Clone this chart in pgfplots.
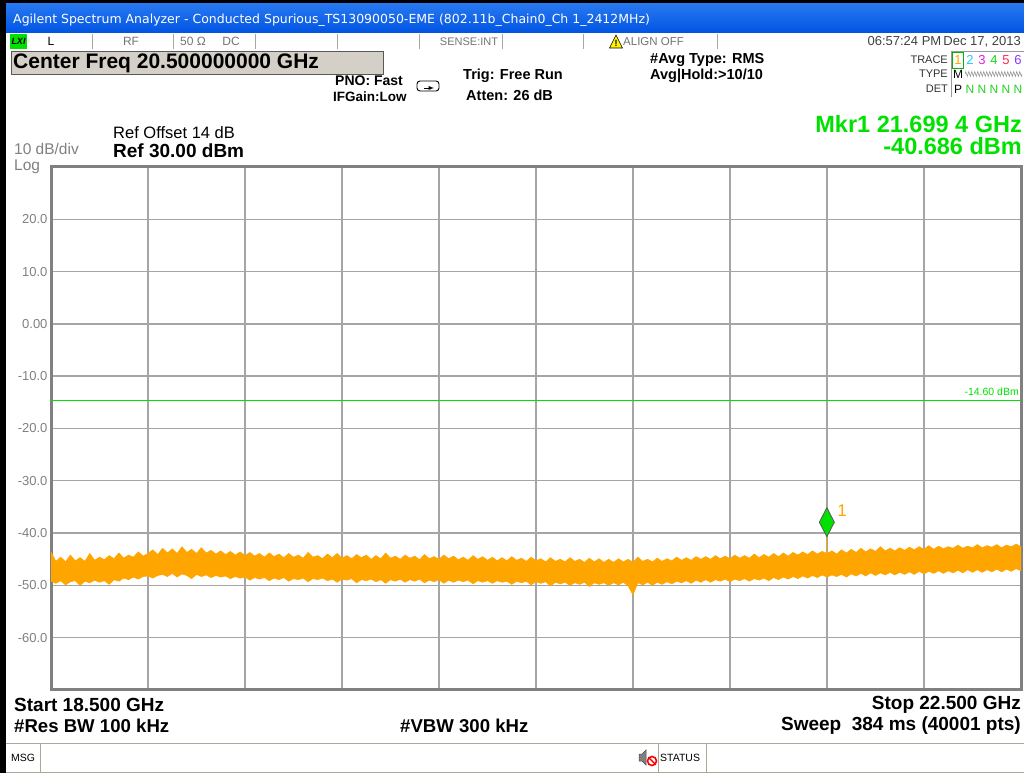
\documentclass[border=0pt]{standalone}
\usepackage{fontspec}
\setmainfont{Liberation Sans}
\newfontfamily\tahoma{DejaVu Sans}
\usepackage{pgfplots}
\pgfplotsset{compat=1.18}
\usepgfplotslibrary{fillbetween}
\usepackage{pgfplotstable}
\usetikzlibrary{decorations.pathmorphing}

\definecolor{trc}{RGB}{255,165,0}
\definecolor{mkgreen}{RGB}{0,225,0}
\definecolor{framegray}{RGB}{128,128,128}
\definecolor{gridgray}{RGB}{165,165,165}
\definecolor{lblgray}{RGB}{128,128,128}
\definecolor{cellline}{RGB}{172,168,153}
\definecolor{boxgray}{RGB}{212,208,200}
\definecolor{xpblue}{RGB}{0,84,227}
\definecolor{xpblue2}{RGB}{40,120,240}
\definecolor{tc2}{RGB}{40,200,255}
\definecolor{tc3}{RGB}{225,30,225}
\definecolor{tc4}{RGB}{30,210,30}
\definecolor{tc5}{RGB}{255,40,80}
\definecolor{tc6}{RGB}{130,60,255}

\newcommand\fs[1]{\fontsize{#1}{#1}\selectfont}

\pgfplotstableread{
f lo hi
18.50 -49.2 -43.6
18.52 -49.6 -45.4
18.54 -49.1 -44.6
18.56 -49.9 -45.5
18.58 -49.3 -44.2
18.60 -49.1 -45.3
18.62 -50.0 -44.7
18.64 -49.2 -45.4
18.66 -49.5 -43.9
18.68 -49.0 -45.2
18.70 -49.4 -44.6
18.72 -49.1 -45.1
18.74 -49.8 -44.3
18.76 -48.9 -44.9
18.78 -49.2 -43.8
18.80 -48.6 -44.8
18.82 -48.9 -44.2
18.84 -48.4 -44.6
18.86 -48.8 -43.6
18.88 -48.3 -44.4
18.90 -48.2 -43.9
18.92 -48.6 -43.2
18.94 -48.1 -44.1
18.96 -47.9 -42.9
18.98 -48.3 -43.8
19.00 -47.7 -43.0
19.02 -48.4 -43.9
19.04 -47.8 -42.6
19.06 -48.1 -43.7
19.08 -48.7 -43.1
19.10 -47.9 -43.9
19.12 -48.3 -42.8
19.14 -48.0 -43.8
19.16 -48.5 -43.3
19.18 -48.1 -44.0
19.20 -48.4 -43.4
19.22 -48.2 -44.1
19.24 -48.7 -43.5
19.26 -48.3 -44.2
19.28 -48.6 -43.6
19.30 -48.4 -44.3
19.32 -49.0 -43.7
19.34 -48.5 -44.4
19.36 -48.8 -43.9
19.38 -48.5 -44.6
19.40 -49.1 -43.8
19.42 -48.6 -44.5
19.44 -48.9 -44.0
19.46 -48.5 -44.7
19.48 -49.2 -43.9
19.50 -48.7 -44.6
19.52 -48.9 -44.2
19.54 -48.6 -44.8
19.56 -49.3 -43.7
19.58 -48.7 -44.6
19.60 -48.9 -44.3
19.62 -48.6 -44.9
19.64 -49.1 -44.0
19.66 -48.8 -44.7
19.68 -49.4 -43.9
19.70 -48.8 -44.8
19.72 -49.0 -44.3
19.74 -48.7 -44.9
19.76 -49.5 -44.1
19.78 -48.9 -44.7
19.80 -49.1 -44.2
19.82 -48.8 -45.0
19.84 -49.3 -44.3
19.86 -48.9 -44.9
19.88 -49.6 -43.8
19.90 -48.9 -44.8
19.92 -49.2 -44.4
19.94 -48.8 -45.0
19.96 -49.4 -44.2
19.98 -48.9 -44.8
20.00 -49.2 -44.4
20.02 -48.8 -45.1
20.04 -49.5 -44.1
20.06 -49.0 -44.9
20.08 -49.3 -44.5
20.10 -48.9 -45.0
20.12 -49.6 -44.2
20.14 -49.0 -44.9
20.16 -49.4 -44.4
20.18 -49.0 -45.1
20.20 -49.3 -44.6
20.22 -49.0 -45.2
20.24 -49.7 -44.3
20.26 -49.1 -45.0
20.28 -49.4 -44.5
20.30 -49.1 -45.2
20.32 -49.6 -44.6
20.34 -49.1 -45.3
20.36 -49.4 -44.7
20.38 -49.2 -45.3
20.40 -49.8 -44.5
20.42 -49.2 -45.2
20.44 -49.5 -44.8
20.46 -49.2 -45.4
20.48 -49.9 -44.6
20.50 -49.3 -45.3
20.52 -49.6 -44.9
20.54 -49.3 -45.5
20.56 -50.1 -44.7
20.58 -49.4 -45.4
20.60 -49.7 -45.0
20.62 -49.4 -45.5
20.64 -50.0 -44.7
20.66 -49.5 -45.4
20.68 -49.8 -45.0
20.70 -49.4 -45.6
20.72 -50.2 -44.8
20.74 -49.5 -45.5
20.76 -49.8 -44.9
20.78 -49.5 -45.6
20.80 -50.0 -45.0
20.82 -49.5 -45.6
20.84 -49.9 -44.9
20.86 -49.4 -45.5
20.88 -50.1 -45.0
20.90 -51.8 -45.6
20.92 -49.5 -44.6
20.94 -49.9 -45.4
20.96 -49.4 -45.0
20.98 -50.0 -45.5
21.00 -49.4 -44.8
21.02 -49.8 -45.4
21.04 -49.3 -44.9
21.06 -49.7 -45.3
21.08 -49.2 -44.6
21.10 -49.5 -45.2
21.12 -49.1 -44.7
21.14 -49.6 -45.2
21.16 -49.0 -44.5
21.18 -49.4 -45.0
21.20 -48.9 -44.5
21.22 -49.4 -45.0
21.24 -48.9 -44.3
21.26 -49.2 -44.9
21.28 -48.8 -44.4
21.30 -49.3 -44.9
21.32 -48.8 -44.2
21.34 -49.1 -44.8
21.36 -48.7 -44.3
21.38 -49.2 -44.8
21.40 -48.7 -44.0
21.42 -49.0 -44.7
21.44 -48.6 -44.1
21.46 -49.1 -44.6
21.48 -48.5 -43.9
21.50 -48.9 -44.5
21.52 -48.4 -43.8
21.54 -48.8 -44.4
21.56 -48.3 -43.7
21.58 -48.7 -44.2
21.60 -48.2 -43.6
21.62 -48.6 -44.1
21.64 -48.1 -43.4
21.66 -48.5 -44.0
21.68 -48.0 -43.5
21.70 -48.4 -43.9
21.72 -48.0 -43.4
21.74 -48.3 -44.0
21.76 -47.9 -43.2
21.78 -48.4 -43.8
21.80 -47.8 -43.1
21.82 -48.2 -43.7
21.84 -47.7 -42.9
21.86 -48.2 -43.6
21.88 -47.6 -43.0
21.90 -48.1 -43.5
21.92 -47.6 -42.6
21.94 -48.0 -43.4
21.96 -47.5 -42.9
21.98 -48.0 -43.4
22.00 -47.5 -42.8
22.02 -47.9 -43.3
22.04 -47.4 -42.7
22.06 -47.9 -43.2
22.08 -47.3 -42.6
22.10 -47.8 -43.1
22.12 -47.3 -42.4
22.14 -47.7 -43.1
22.16 -47.2 -42.5
22.18 -47.7 -43.0
22.20 -47.2 -42.6
22.22 -47.6 -42.9
22.24 -47.1 -42.3
22.26 -47.6 -42.9
22.28 -47.0 -42.5
22.30 -47.5 -42.8
22.32 -47.0 -42.2
22.34 -47.5 -42.8
22.36 -47.0 -42.4
22.38 -47.4 -42.7
22.40 -46.9 -42.2
22.42 -47.4 -42.8
22.44 -46.9 -42.3
22.46 -47.3 -42.6
22.48 -46.8 -42.1
22.50 -47.2 -42.6
}\trace

\begin{document}
\begin{tikzpicture}[x=1pt,y=1pt]
% window chrome
\fill[black] (0,769) rectangle (1024,773);
\fill[black] (0,0) rectangle (6,773);
\shade[top color=xpblue2, bottom color=xpblue] (6,740) rectangle (1024,769);
\node[anchor=west, inner sep=0pt, text=white, font=\tahoma\fs{12.5}] at (13,752.5)
  {Agilent Spectrum Analyzer - Conducted Spurious\_TS13090050-EME (802.11b\_Chain0\_Ch 1\_2412MHz)};
% status row
\foreach \xx in {92,173,255,337,419,502,583,717} \draw[cellline, line width=1pt] (\xx,724) -- (\xx,739);
\fill[mkgreen] (10,724) rectangle (27,739);
\node[inner sep=0pt, font=\fs{9}\bfseries\itshape] at (18.5,731.5) {LXI};
\node[inner sep=0pt, font=\fs{12}] at (51,731.5) {L};
\node[inner sep=0pt, font=\fs{12}, text=black!55] at (131,731.5) {RF};
\node[inner sep=0pt, font=\fs{12}, text=black!55] at (193,731.5) {50 Ω};
\node[inner sep=0pt, font=\fs{12}, text=black!55] at (231,731.5) {DC};
\node[inner sep=0pt, font=\fs{11}, text=black!55] at (469,731.5) {SENSE:INT};
\filldraw[fill=yellow, draw=black, line width=0.6pt] (609.5,725) -- (622.5,725) -- (616,738) -- cycle;
\node[inner sep=0pt, font=\fs{9}\bfseries] at (616,729.5) {!};
\node[anchor=west, inner sep=0pt, font=\fs{11.5}, text=black!55] at (623,731.5) {ALIGN OFF};
\node[anchor=east, inner sep=0pt, font=\fs{13}, text=black!75] at (1021,731.5) {06:57:24 PM\,Dec 17, 2013};
% center freq
\filldraw[fill=boxgray, draw=black!65, line width=1pt] (11,698) rectangle (383,721);
\node[anchor=west, inner sep=0pt, font=\fs{21}\bfseries] at (13,710) {Center Freq 20.500000000 GHz};
% settings
\node[anchor=west, inner sep=0pt, font=\fs{14}\bfseries] at (335,692) {PNO: Fast};
\node[anchor=west, inner sep=0pt, font=\fs{13.5}\bfseries] at (333,676) {IFGain:Low};
\draw[rounded corners=3pt, line width=0.9pt] (417,682) rectangle (439,692);
\draw[-latex, line width=0.9pt] (424,685) -- (434,685);
\node[anchor=west, inner sep=0pt, font=\fs{14.5}\bfseries] at (463,697) {Trig: Free Run};
\node[anchor=west, inner sep=0pt, font=\fs{14.5}\bfseries] at (466,678) {Atten: 26 dB};
\node[anchor=west, inner sep=0pt, font=\fs{14.5}\bfseries] at (650,713) {\#Avg Type: RMS};
\node[anchor=west, inner sep=0pt, font=\fs{14.5}\bfseries] at (650,697) {Avg|Hold:>10/10};
% trace panel
\node[anchor=east, inner sep=0pt, font=\fs{11}, text=black!80] at (948,713) {TRACE};
\node[anchor=east, inner sep=0pt, font=\fs{11}, text=black!80] at (948,699) {TYPE};
\node[anchor=east, inner sep=0pt, font=\fs{11}, text=black!80] at (948,684) {DET};
\draw[black!40, line width=0.8pt] (951,676) -- (951,722) -- (1024,722);
\draw[mkgreen!80!black, line width=0.6pt] (952.5,705) rectangle (963.5,721);
\node[inner sep=0pt, font=\fs{13}, text=trc] at (958,713) {1};
\node[inner sep=0pt, font=\fs{13}, text=tc2] at (970,713) {2};
\node[inner sep=0pt, font=\fs{13}, text=tc3] at (982,713) {3};
\node[inner sep=0pt, font=\fs{13}, text=tc4] at (994,713) {4};
\node[inner sep=0pt, font=\fs{13}, text=tc5] at (1006,713) {5};
\node[inner sep=0pt, font=\fs{13}, text=tc6] at (1018,713) {6};
\node[inner sep=0pt, font=\fs{12}] at (958,699) {M};
\draw[black!45, line width=0.5pt, decorate, decoration={zigzag, segment length=3pt, amplitude=2.5pt}] (965,699) -- (1022,699);
\node[inner sep=0pt, font=\fs{12}] at (958,684) {P};
\foreach \xx in {970,982,994,1006,1018} \node[inner sep=0pt, font=\fs{12}, text=tc4] at (\xx,684) {N};
% marker readout
\node[anchor=east, inner sep=0pt, font=\fs{23.5}\bfseries, text=mkgreen] at (1022,649) {Mkr1 21.699 4 GHz};
\node[anchor=east, inner sep=0pt, font=\fs{23.5}\bfseries, text=mkgreen] at (1022,627) {-40.686 dBm};
% ref
\node[anchor=west, inner sep=0pt, font=\fs{16.5}] at (113,640) {Ref Offset 14 dB};
\node[anchor=west, inner sep=0pt, font=\fs{19}\bfseries] at (113,622) {Ref 30.00 dBm};
\node[anchor=base west, inner sep=0pt, font=\fs{15.5}, text=lblgray] at (14,618) {10 dB/div};
\node[anchor=base west, inner sep=0pt, font=\fs{15.5}, text=lblgray] at (14,602.5) {Log};

\begin{axis}[
  at={(51pt,83pt)}, anchor=south west, scale only axis,
  width=970pt, height=523pt,
  xmin=18.5, xmax=22.5, ymin=-70, ymax=30,
  xtick={18.9,19.3,19.7,20.1,20.5,20.9,21.3,21.7,22.1}, xticklabels={},
  ytick={-60,-50,-40,-30,-20,-10,0,10,20},
  yticklabels={-60.0,-50.0,-40.0,-30.0,-20.0,-10.0,0.00,10.0,20.0},
  grid=major, major grid style={draw=gridgray, line width=1.4pt},
  major tick length=0pt,
  axis line style={draw=framegray, line width=3pt},
  yticklabel style={font=\fs{13}, text=lblgray},
]
\addplot[name path=lo, draw=trc, line width=0.6pt] table[x=f, y=lo] {\trace};
\addplot[name path=hi, draw=trc, line width=0.6pt] table[x=f, y=hi] {\trace};
\addplot[fill=trc, draw=none] fill between[of=lo and hi];
\addplot[trc, line width=0.8pt] coordinates {(21.6994,-44) (21.6994,-40.686)};
\addplot[mkgreen, line width=1pt] coordinates {(18.5,-14.6) (22.5,-14.6)};
\addplot[only marks, mark=diamond*, mark size=14.5pt,
  mark options={yshift=14.5pt, xscale=0.69, fill=mkgreen, draw=black!65, line width=0.8pt}]
  coordinates {(21.6994,-40.686)};
\node[text=trc, font=\fs{17}, inner sep=0pt] at (axis cs:21.762,-35.8) {1};
\end{axis}
\node[anchor=base east, inner sep=0pt, font=\fs{10.5}, text=mkgreen] at (1019,377) {-14.60 dBm};
% bottom annotations
\node[anchor=west, inner sep=0pt, font=\fs{19}\bfseries] at (14,68) {Start 18.500 GHz};
\node[anchor=west, inner sep=0pt, font=\fs{18.6}\bfseries] at (14,47) {\#Res BW 100 kHz};
\node[anchor=west, inner sep=0pt, font=\fs{18.6}\bfseries] at (400,47) {\#VBW 300 kHz};
\node[anchor=east, inner sep=0pt, font=\fs{19}\bfseries] at (1021,68) {Stop 22.500 GHz};
\node[anchor=east, inner sep=0pt, font=\fs{19}\bfseries] at (1021,47) {Sweep\ \ 384 ms (40001 pts)};
% message row
\draw[cellline, line width=1pt] (6,30) -- (1024,30);
\draw[cellline, line width=1pt] (6,1) -- (1024,1);
\draw[cellline, line width=1pt] (40,1) -- (40,30);
\draw[cellline, line width=1pt] (658,1) -- (658,30);
\draw[cellline, line width=1pt] (706,1) -- (706,30);
\node[anchor=west, inner sep=0pt, font=\fs{10.5}] at (11,15) {MSG};
\node[anchor=west, inner sep=0pt, font=\fs{10.5}] at (660,15) {STATUS};
\filldraw[fill=black!50, draw=black!70, line width=0.5pt] (639,12) -- (642,12) -- (646,8) -- (646,23) -- (642,19) -- (639,19) -- cycle;
\draw[red, line width=1.6pt] (652,12) circle (4.5pt);
\draw[red, line width=1.4pt] (649,15) -- (655,9);
\pgfresetboundingbox
\path[use as bounding box] (0,0) rectangle (1024,773);
\end{tikzpicture}
\end{document}
